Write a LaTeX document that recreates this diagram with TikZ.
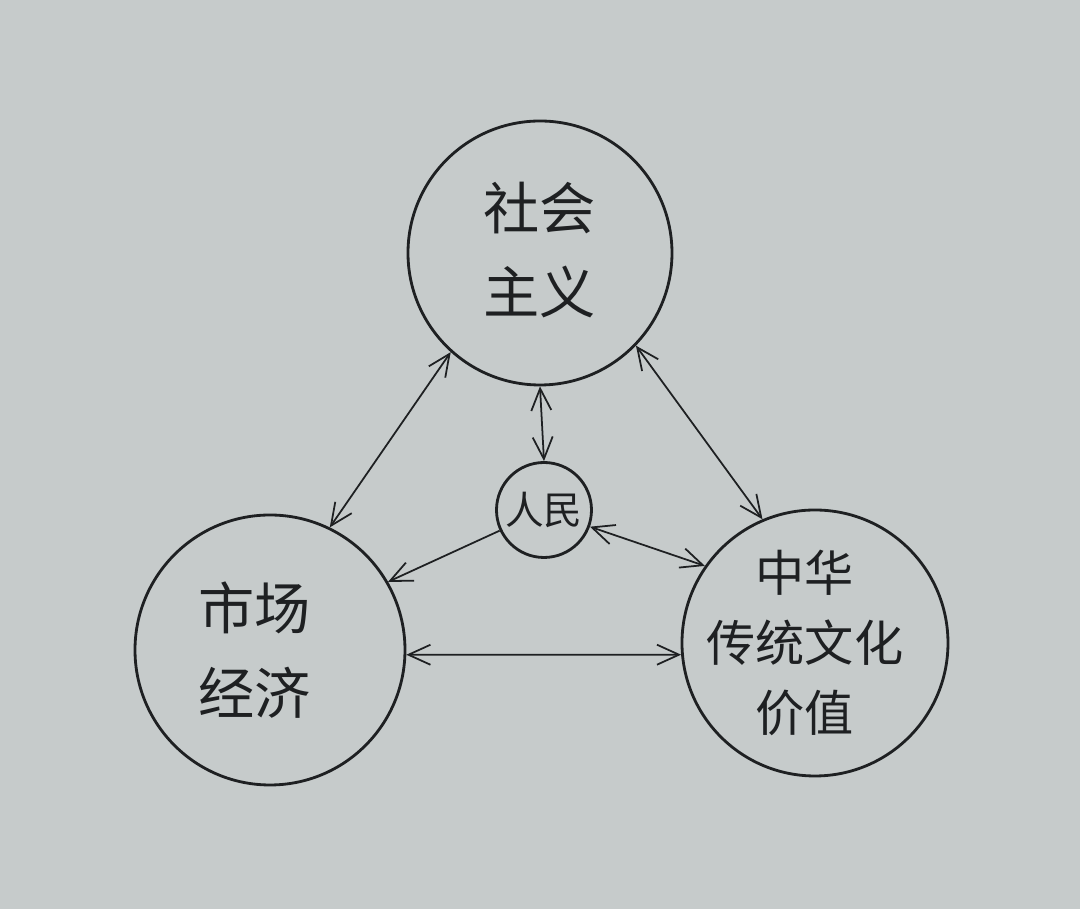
\documentclass[tikz,border=0pt]{standalone}
\usepackage{fontspec}
\newfontfamily\cjk{Noto Sans CJK SC}
\usetikzlibrary{arrows.meta}
\definecolor{paper}{RGB}{198,203,203}
\definecolor{ink}{RGB}{30,32,34}
\tikzset{
  bigcircle/.style={circle, draw=ink, line width=0.8pt, minimum size=#1, inner sep=0pt},
  label text/.style={align=center, font=\cjk\fontsize{16}{24}\selectfont, text=ink, inner sep=0pt},
  small text/.style={align=center, font=\cjk\fontsize{14}{20}\selectfont, text=ink, inner sep=0pt},
  smallcircle/.style={circle, draw=ink, line width=0.8pt, minimum size=#1, inner sep=0pt, font=\cjk\fontsize{11}{13}\selectfont, text=ink},
  link/.style={draw=ink, line width=0.5pt, {Straight Barb[length=2.2mm,width=2mm]}-{Straight Barb[length=2.2mm,width=2mm]}},
  onelink/.style={draw=ink, line width=0.5pt, -{Straight Barb[length=2.2mm,width=2mm]}}
}
\begin{document}
\begin{tikzpicture}[x=0.1mm, y=-0.1mm]
\fill[paper] (0,0) rectangle (1080,909);
\useasboundingbox (0,0) rectangle (1080,909);
\node[bigcircle=26.4mm] (soc) at (540,253) {};
\node[label text] (socT) at (540,250) {社会\\主义};
\node[bigcircle=27mm] (mkt) at (270,650) {};
\node[label text] (mktT) at (255,650) {市场\\经济};
\node[bigcircle=26.6mm] (cul) at (815,643) {};
\node[small text] (culT) at (805,643) {中华\\传统文化\\价值};
\node[smallcircle=9.5mm] (ppl) at (544,510) {人民};
\draw[link] (mkt.64) -- (soc.228);
\draw[link] (soc.316) -- (cul.113);
\draw[link] (soc.270) -- (ppl.90);
\draw[link] (ppl.-20) -- (cul.145);
\draw[onelink] (ppl.205) -- (mkt.30);
\draw[link] (mkt.-2) -- (cul.185);
\end{tikzpicture}
\end{document}
